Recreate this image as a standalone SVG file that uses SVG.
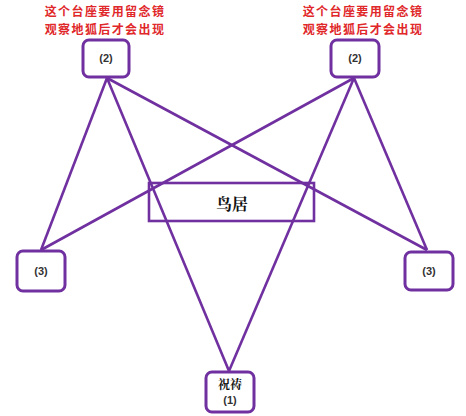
<svg xmlns="http://www.w3.org/2000/svg" width="466" height="416" viewBox="0 0 466 416">
<style>
.box{fill:#fff;stroke:#7030a0;stroke-width:3}
.ln{stroke:#7030a0;stroke-width:2.6;fill:none}
.lbl{font-family:"Liberation Sans","Noto Sans CJK SC",sans-serif;font-size:11px;font-weight:bold;fill:#333;text-anchor:middle}
.note{font-family:"Noto Sans CJK SC",sans-serif;font-size:12px;letter-spacing:1.4px;font-weight:bold;fill:#e0282a;text-anchor:middle}
.cn{font-family:"Noto Serif CJK SC","Noto Sans CJK SC",serif;font-weight:bold;fill:#111;text-anchor:middle}
</style>
<rect width="466" height="416" fill="#fff"/>
<g id="connectors">
<line class="ln" x1="107" y1="78" x2="41" y2="250"/>
<line class="ln" x1="107" y1="78" x2="229" y2="371"/>
<line class="ln" x1="107" y1="78" x2="427" y2="250"/>
<line class="ln" x1="354" y1="78" x2="41" y2="250"/>
<line class="ln" x1="354" y1="78" x2="229" y2="371"/>
<line class="ln" x1="354" y1="78" x2="427" y2="250"/>
</g>
<g id="torii">
<rect x="149" y="183" width="165" height="38" fill="none" stroke="#7030a0" stroke-width="2.6"/>
<text class="cn" x="232" y="210" font-size="16">鸟居</text>
</g>
<g id="note-left">
<text class="note" x="105" y="16">这个台座要用留念镜</text>
<text class="note" x="105" y="34">观察地狐后才会出现</text>
</g>
<g id="note-right">
<text class="note" x="363" y="16">这个台座要用留念镜</text>
<text class="note" x="363" y="34">观察地狐后才会出现</text>
</g>
<g id="node-tl">
<rect class="box" x="83" y="40" width="46" height="37" rx="6"/>
<text class="lbl" x="106" y="62">(2)</text>
</g>
<g id="node-tr">
<rect class="box" x="331" y="40" width="48" height="37" rx="6"/>
<text class="lbl" x="355" y="62">(2)</text>
</g>
<g id="node-l3">
<rect class="box" x="17" y="251" width="48" height="40" rx="6"/>
<text class="lbl" x="41" y="275">(3)</text>
</g>
<g id="node-r3">
<rect class="box" x="405" y="252" width="48" height="38" rx="6"/>
<text class="lbl" x="429" y="275">(3)</text>
</g>
<g id="node-b1">
<rect class="box" x="206" y="372" width="48" height="40" rx="6"/>
<text class="cn" x="230" y="389" font-size="12">祝祷</text>
<text class="lbl" x="230" y="404">(1)</text>
</g>
</svg>
